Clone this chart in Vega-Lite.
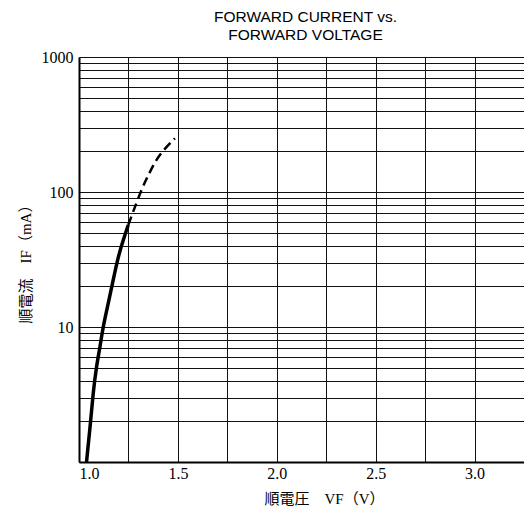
{
  "$schema": "https://vega.github.io/schema/vega-lite/v6.json",
  "autosize": "none",
  "width": 445,
  "height": 405,
  "padding": {"left": 79, "top": 57, "right": 0, "bottom": 58},
  "background": "white",
  "config": {"view": {"stroke": null}},
  "title": {
    "text": ["FORWARD CURRENT vs.", "FORWARD VOLTAGE"],
    "anchor": "middle",
    "font": "Liberation Sans",
    "fontSize": 15.5,
    "fontWeight": "normal",
    "color": "black",
    "lineHeight": 18,
    "offset": 6,
    "dx": 4
  },
  "data": {
    "values": [
      {"v": 1.038, "i": 1.0, "seg": "solid"},
      {"v": 1.056, "i": 1.83, "seg": "solid"},
      {"v": 1.072, "i": 3.23, "seg": "solid"},
      {"v": 1.089, "i": 5.08, "seg": "solid"},
      {"v": 1.106, "i": 7.15, "seg": "solid"},
      {"v": 1.123, "i": 10.05, "seg": "solid"},
      {"v": 1.148, "i": 15.0, "seg": "solid"},
      {"v": 1.173, "i": 22.3, "seg": "solid"},
      {"v": 1.198, "i": 32.5, "seg": "solid"},
      {"v": 1.224, "i": 44.1, "seg": "solid"},
      {"v": 1.249, "i": 57, "seg": "solid"},
      {"v": 1.249, "i": 57, "seg": "dashed"},
      {"v": 1.274, "i": 71.5, "seg": "dashed"},
      {"v": 1.317, "i": 104, "seg": "dashed"},
      {"v": 1.359, "i": 141, "seg": "dashed"},
      {"v": 1.409, "i": 188, "seg": "dashed"},
      {"v": 1.485, "i": 250, "seg": "dashed"}
    ]
  },
  "encoding": {
    "x": {
      "field": "v",
      "type": "quantitative",
      "scale": {"domain": [1.0, 3.25], "nice": false, "zero": false},
      "axis": {
        "values": [1.0, 1.25, 1.5, 1.75, 2.0, 2.25, 2.5, 2.75, 3.0, 3.25],
        "labelExpr": "(round(datum.value*4) % 2 == 0 && datum.value < 3.2) ? format(datum.value, '.1f') : ''",
        "grid": true,
        "gridColor": "#111",
        "gridWidth": 1,
        "gridOpacity": 1,
        "domainColor": "black",
        "domainWidth": 2,
        "ticks": false,
        "labelFont": "Liberation Serif",
        "labelFontSize": 16,
        "labelColor": "black",
        "labelPadding": 3,
        "title": "順電圧　VF（V）",
        "titleFont": "Liberation Serif, Noto Sans CJK JP",
        "titleFontSize": 15,
        "titleFontWeight": "normal",
        "titleColor": "black",
        "titleX": 245,
        "titleY": 36,
        "titleBaseline": "middle"
      }
    },
    "y": {
      "field": "i",
      "type": "quantitative",
      "scale": {"type": "log", "domain": [1, 1000], "nice": false},
      "axis": {
        "values": [1,2,3,4,5,6,7,8,9,10,20,30,40,50,60,70,80,90,100,200,300,400,500,600,700,800,900,1000],
        "labelExpr": "(datum.value == 10 || datum.value == 100 || datum.value == 1000) ? format(datum.value, 'd') : ''",
        "grid": true,
        "gridColor": "#111",
        "gridWidth": 1,
        "gridOpacity": 1,
        "domainColor": "black",
        "domainWidth": 2,
        "ticks": false,
        "labelFont": "Liberation Serif",
        "labelFontSize": 16,
        "labelColor": "black",
        "labelPadding": 6,
        "title": "順電流　IF（mA）",
        "titleFont": "Liberation Serif, Noto Sans CJK JP",
        "titleFontSize": 15,
        "titleFontWeight": "normal",
        "titleColor": "black",
        "titleAngle": -90,
        "titleX": -54,
        "titleY": 203,
        "titleBaseline": "middle"
      }
    }
  },
  "layer": [
    {
      "transform": [{"filter": "datum.seg == 'solid'"}],
      "mark": {"type": "line", "color": "black", "strokeWidth": 3.5, "interpolate": "natural"}
    },
    {
      "transform": [{"filter": "datum.seg == 'dashed'"}],
      "mark": {"type": "line", "color": "black", "strokeWidth": 2.5, "strokeDash": [9, 5], "interpolate": "natural"}
    }
  ]
}
